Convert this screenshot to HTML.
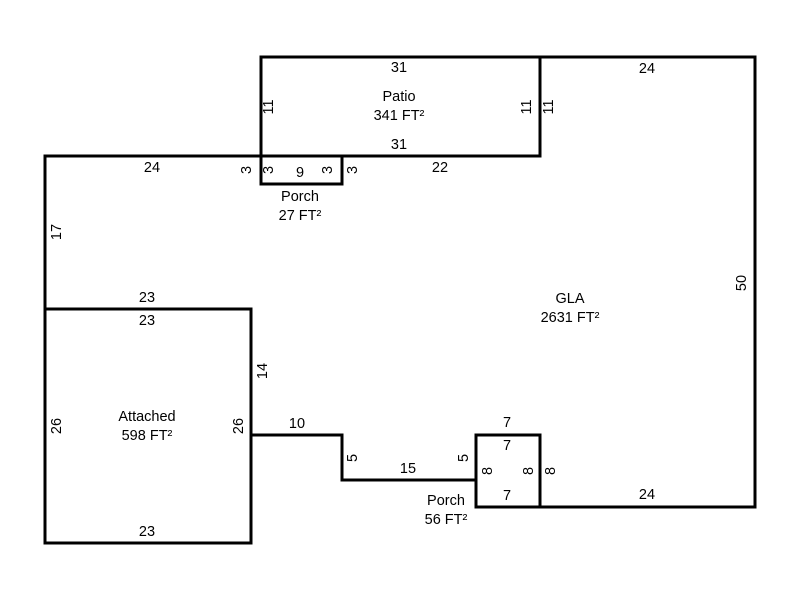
<!DOCTYPE html>
<html><head><style>body{margin:0;background:#fff}</style></head><body>
<svg width="800" height="600" xmlns="http://www.w3.org/2000/svg" font-family="Liberation Sans, Arial, sans-serif" font-size="14.5" fill="#000">
<g fill="none" stroke="#000" stroke-width="3" stroke-linecap="square">
<rect x="261" y="57" width="279" height="99"/>
<line x1="540" y1="57" x2="755" y2="57"/>
<line x1="755" y1="57" x2="755" y2="507"/>
<line x1="540" y1="507" x2="755" y2="507"/>
<rect x="476" y="435" width="64" height="72"/>
<polyline points="476,480 342,480 342,435 251,435"/>
<rect x="45" y="309" width="206" height="234"/>
<polyline points="45,309 45,156 261,156"/>
<line x1="342" y1="156" x2="540" y2="156"/>
<rect x="261" y="156" width="81" height="28"/>
</g>
<g text-anchor="middle">
<text x="399" y="72">31</text>
<text x="399" y="101">Patio</text>
<text x="399" y="120">341 FT²</text>
<text x="399" y="149">31</text>
<text x="647" y="73">24</text>
<text x="152" y="172">24</text>
<text x="440" y="172">22</text>
<text x="300" y="177">9</text>
<text x="300" y="201">Porch</text>
<text x="300" y="220">27 FT²</text>
<text x="570" y="303">GLA</text>
<text x="570" y="322">2631 FT²</text>
<text x="147" y="302">23</text>
<text x="147" y="325">23</text>
<text x="147" y="421">Attached</text>
<text x="147" y="440">598 FT²</text>
<text x="147" y="536">23</text>
<text x="297" y="428">10</text>
<text x="408" y="473">15</text>
<text x="507" y="427">7</text>
<text x="507" y="450">7</text>
<text x="507" y="500">7</text>
<text x="647" y="499">24</text>
<text x="446" y="505">Porch</text>
<text x="446" y="524">56 FT²</text>
</g>
<g text-anchor="middle">
<text transform="translate(273,107) rotate(-90)">11</text>
<text transform="translate(531,107) rotate(-90)">11</text>
<text transform="translate(553,107) rotate(-90)">11</text>
<text transform="translate(251,170) rotate(-90)">3</text>
<text transform="translate(273,170) rotate(-90)">3</text>
<text transform="translate(332,170) rotate(-90)">3</text>
<text transform="translate(357,170) rotate(-90)">3</text>
<text transform="translate(61,232) rotate(-90)">17</text>
<text transform="translate(746,283) rotate(-90)">50</text>
<text transform="translate(267,371) rotate(-90)">14</text>
<text transform="translate(61,426) rotate(-90)">26</text>
<text transform="translate(243,426) rotate(-90)">26</text>
<text transform="translate(357,458) rotate(-90)">5</text>
<text transform="translate(468,458) rotate(-90)">5</text>
<text transform="translate(492,471) rotate(-90)">8</text>
<text transform="translate(533,471) rotate(-90)">8</text>
<text transform="translate(555,471) rotate(-90)">8</text>
</g>
</svg>
</body></html>
